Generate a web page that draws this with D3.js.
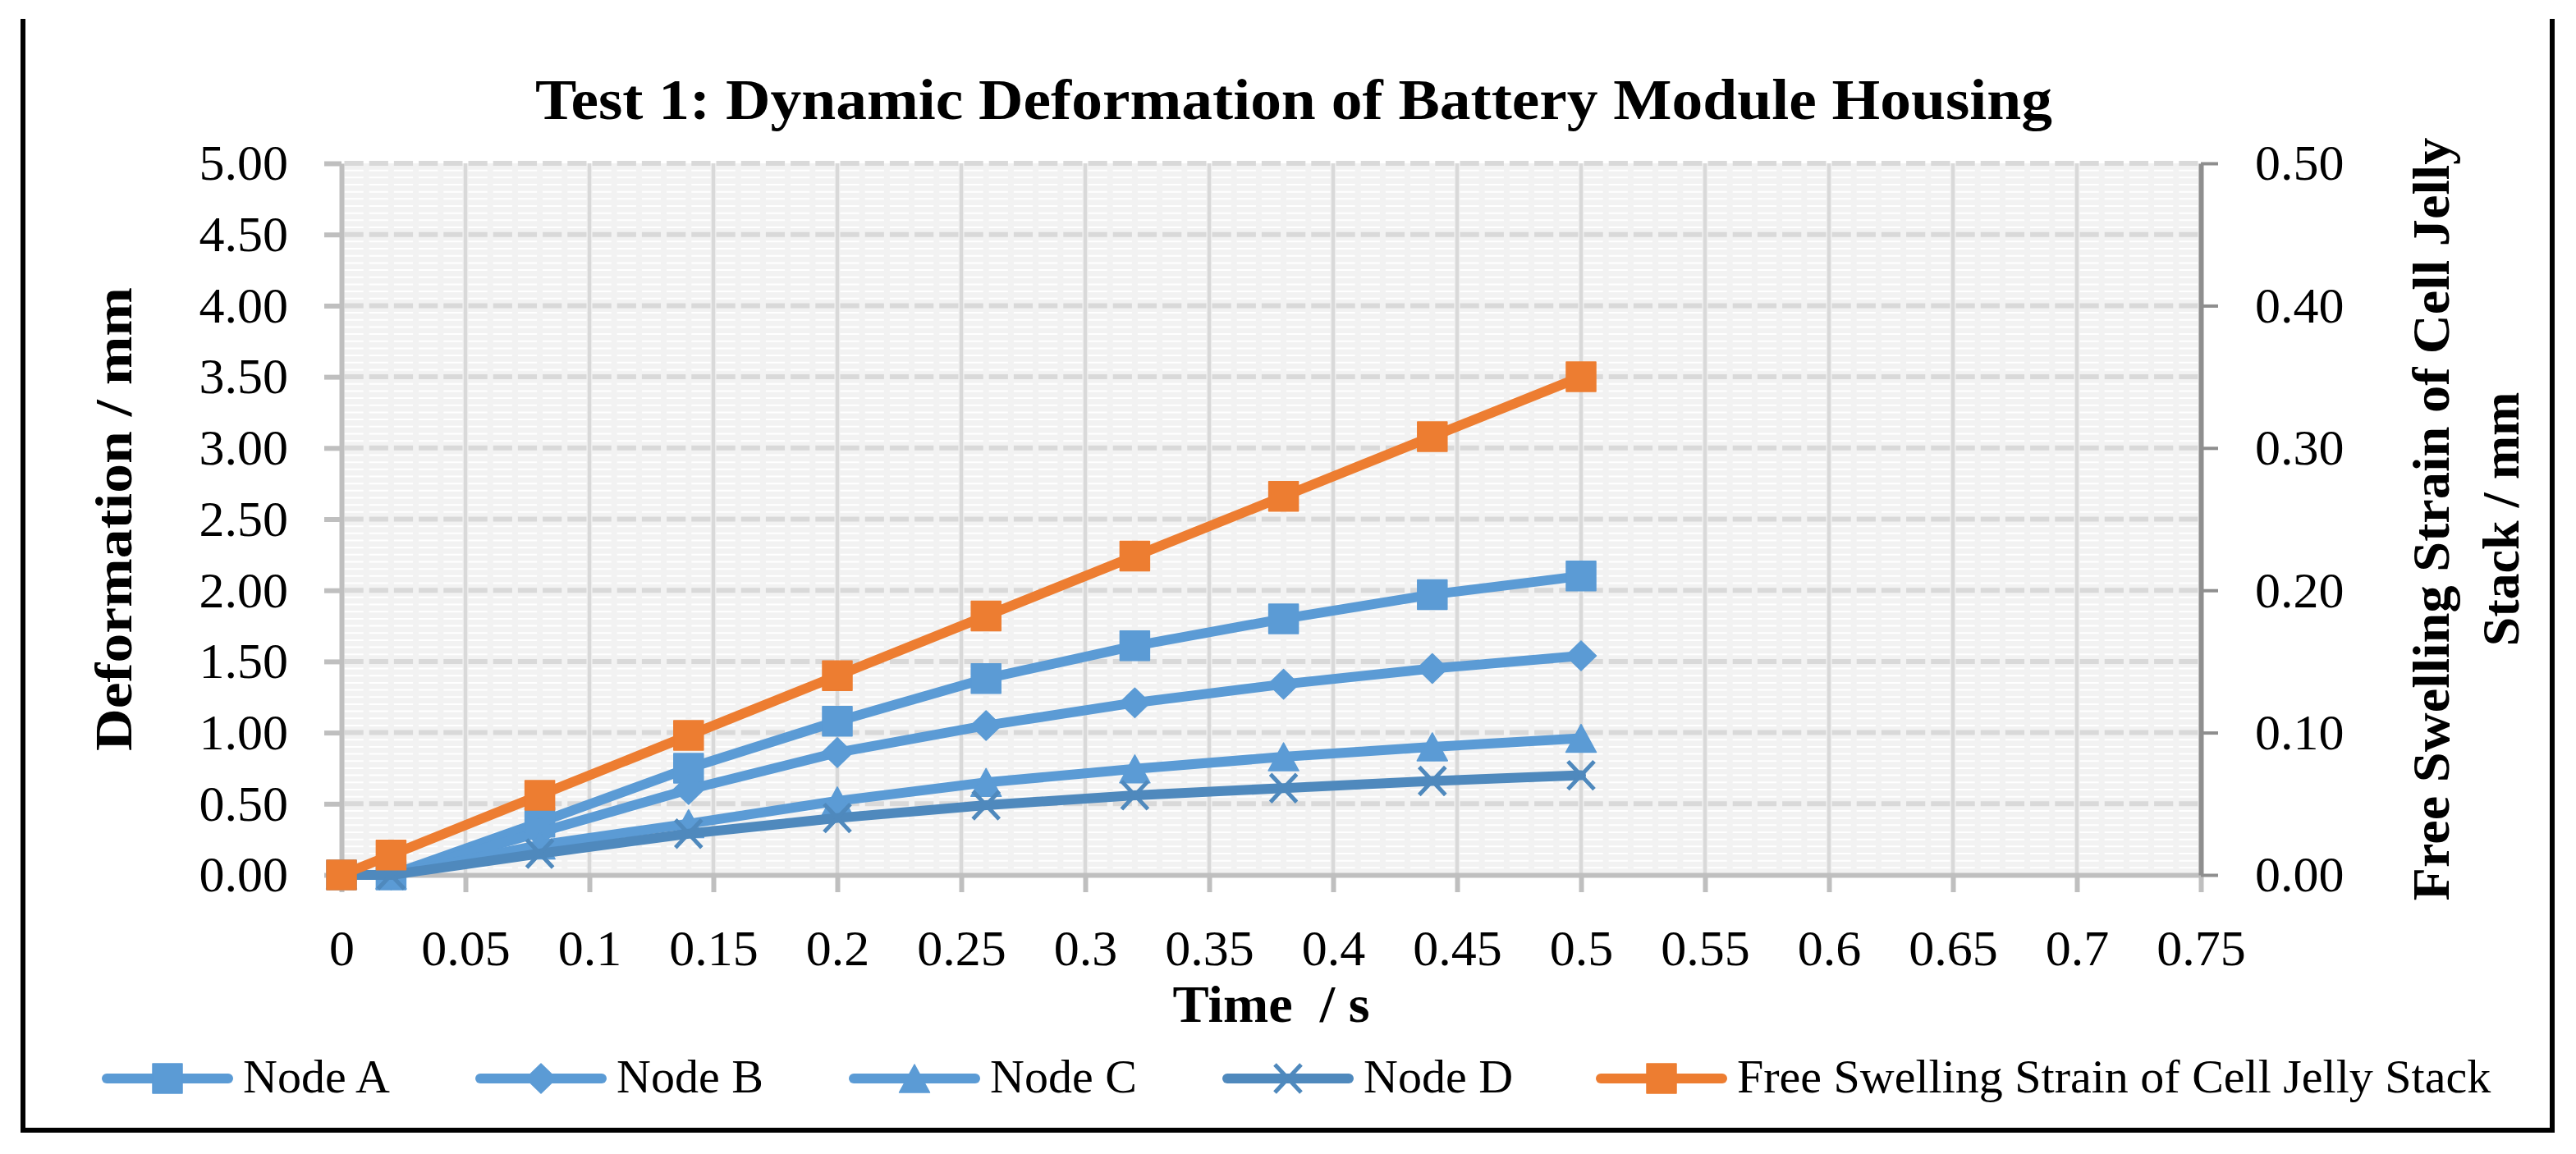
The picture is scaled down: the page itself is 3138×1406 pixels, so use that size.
<!DOCTYPE html>
<html>
<head>
<meta charset="utf-8">
<script src="https://cdn.jsdelivr.net/npm/d3@7/dist/d3.min.js"></script>
<style>
    body {margin: 0; background: #fff;}
    text {font-family: "Liberation Serif", "Times New Roman", serif; fill: #000;}
</style>
</head>
<body>
<svg id="chart" width="3138" height="1406"></svg>
<script>

// data
const time = [0, 0.02, 0.08, 0.14, 0.2, 0.26, 0.32, 0.38, 0.44, 0.5];
const nodeA = [0, 0.00, 0.37, 0.75, 1.08, 1.38, 1.61, 1.80, 1.97, 2.10];
const nodeB = [0, 0.00, 0.30, 0.60, 0.86, 1.05, 1.21, 1.34, 1.45, 1.54];
const nodeC = [0, 0.00, 0.21, 0.36, 0.52, 0.65, 0.745, 0.83, 0.90, 0.96];
const nodeD = [0, 0.00, 0.15, 0.29, 0.40, 0.49, 0.56, 0.61, 0.66, 0.70];
const swelling = [0, 0.014, 0.056, 0.098, 0.14, 0.182, 0.224, 0.266, 0.308, 0.35];

const seriesNames = ['Node A', 'Node B', 'Node C', 'Node D', 'Free Swelling Strain of Cell Jelly Stack'];

const xTicks = [0, 0.05, 0.1, 0.15, 0.2, 0.25, 0.3, 0.35, 0.4, 0.45, 0.5, 0.55, 0.6, 0.65, 0.7, 0.75];
const xTickLabels = ['0', '0.05', '0.1', '0.15', '0.2', '0.25', '0.3', '0.35', '0.4', '0.45', '0.5', '0.55', '0.6', '0.65', '0.7', '0.75'];
const leftTicks = [0, 0.5, 1, 1.5, 2, 2.5, 3, 3.5, 4, 4.5, 5];
const leftTickLabels = ['0.00', '0.50', '1.00', '1.50', '2.00', '2.50', '3.00', '3.50', '4.00', '4.50', '5.00'];
const rightTicks = [0, 0.1, 0.2, 0.3, 0.4, 0.5];
const rightTickLabels = ['0.00', '0.10', '0.20', '0.30', '0.40', '0.50'];

const title = 'Test 1: Dynamic Deformation of Battery Module Housing';
const xTitle = 'Time  / s';
const yTitle = 'Deformation / mm';
const y2Title = ['Free Swelling Strain of Cell Jelly', 'Stack / mm'];

// layout
const width = 3138, height = 1406;
const padding = {left: 416, right: 457, top: 199, bottom: 340};
const blue = '#5b9bd5', darkBlue = '#4f89bd', orange = '#ed7d31';
const grid = '#d9d9d9', axisColor = '#bfbfbf', axis2Color = '#8e8e8e';

const svg = d3.select('#chart');

const x = d3.scaleLinear().domain([0, 0.75]).range([padding.left, width - padding.right]);
const yL = d3.scaleLinear().domain([0, 5]).range([height - padding.bottom, padding.top]);
const yR = d3.scaleLinear().domain([0, 0.5]).range([height - padding.bottom, padding.top]);

const [x0, x1] = x.range();
const [yBottom, yTop] = yL.range();

// plot background
svg.append('rect')
    .attr('x', x0).attr('y', yTop)
    .attr('width', x1 - x0).attr('height', yBottom - yTop)
    .attr('fill', '#f2f2f2');

// dash period lines up with the vertical grid (5 dashes per 0.05 s)
const period = (x(0.05) - x(0)) / 5;
const dash = [period - 7, 7].join(' ');

// minor horizontal grid, white dashes every 0.05 mm
const minor = d3.range(1, 100).map(i => i * 0.05).filter((v, i) => (i + 1) % 10 !== 0);
svg.append('g').selectAll('line')
    .data(minor)
    .enter()
    .append('line')
    .attr('x1', x0 + 3.5).attr('x2', x1)
    .attr('y1', d => yL(d)).attr('y2', d => yL(d))
    .attr('stroke', '#ffffff')
    .attr('stroke-width', 2)
    .attr('stroke-dasharray', dash);

// major horizontal grid
svg.append('g').selectAll('line')
    .data(leftTicks.slice(1))
    .enter()
    .append('line')
    .attr('x1', x0 + 3.5).attr('x2', x1)
    .attr('y1', d => yL(d)).attr('y2', d => yL(d))
    .attr('stroke', grid)
    .attr('stroke-width', 6)
    .attr('stroke-dasharray', dash);

// vertical grid
svg.append('g').selectAll('line')
    .data(xTicks.slice(1, -1))
    .enter()
    .append('line')
    .attr('x1', d => x(d)).attr('x2', d => x(d))
    .attr('y1', yTop).attr('y2', yBottom)
    .attr('stroke', grid)
    .attr('stroke-width', 4.5);

// axes
function styleAxis(g, color, tickWidth) {
    g.select('.domain').attr('stroke', color).attr('stroke-width', 6);
    g.selectAll('.tick line').attr('stroke', color).attr('stroke-width', tickWidth);
    g.selectAll('.tick text')
        .attr('fill', '#000')
        .style('font-size', '62px')
        .style('font-family', '"Liberation Serif", serif');
}

svg.append('g')
    .attr('transform', `translate(0,${yBottom})`)
    .call(d3.axisBottom(x).tickValues(xTicks).tickSize(21).tickSizeOuter(0).tickPadding(45)
        .tickFormat((d, i) => xTickLabels[i]))
    .call(g => styleAxis(g, axisColor, 6));

svg.append('g')
    .attr('transform', `translate(${x1},0)`)
    .call(d3.axisRight(yR).tickValues(rightTicks).tickSize(21).tickSizeOuter(0).tickPadding(45)
        .tickFormat((d, i) => rightTickLabels[i]))
    .call(g => styleAxis(g, axis2Color, 4));

svg.append('g')
    .attr('transform', `translate(${x0},0)`)
    .call(d3.axisLeft(yL).tickValues(leftTicks).tickSize(21).tickSizeOuter(0).tickPadding(44)
        .tickFormat((d, i) => leftTickLabels[i]))
    .call(g => styleAxis(g, axisColor, 6));

// markers
const markers = {
    square: 'M-18,-18h36v36h-36Z',
    diamond: 'M0,-18L18.5,0L0,18L-18.5,0Z',
    triangle: 'M0,-17L18.5,17L-18.5,17Z',
    cross: 'M-16,-17L16,17M-16,17L16,-17'
};

const series = [
    {name: seriesNames[0], values: nodeA, color: blue, marker: 'square', y: yL},
    {name: seriesNames[1], values: nodeB, color: blue, marker: 'diamond', y: yL},
    {name: seriesNames[2], values: nodeC, color: blue, marker: 'triangle', y: yL},
    {name: seriesNames[3], values: nodeD, color: darkBlue, marker: 'cross', y: yL},
    {name: seriesNames[4], values: swelling, color: orange, marker: 'square', y: yR},
];

function drawMarker(g, s) {
    const p = g.append('path').attr('d', markers[s.marker]);
    if (s.marker === 'cross') {
        p.attr('fill', 'none').attr('stroke', s.color).attr('stroke-width', 5);
    } else {
        p.attr('fill', s.color).attr('stroke', s.color).attr('stroke-width', 1.5)
            .attr('stroke-linejoin', 'round');
    }
}

for (let s of series) {
    const line = d3.line()
        .x((d, i) => x(time[i]))
        .y(d => s.y(d));

    const g = svg.append('g').attr('class', 'series');
    g.append('path')
        .datum(s.values)
        .attr('d', line)
        .attr('fill', 'none')
        .attr('stroke', s.color)
        .attr('stroke-width', 12)
        .attr('stroke-linejoin', 'round')
        .attr('stroke-linecap', 'round');

    g.selectAll('.pt')
        .data(s.values)
        .enter()
        .append('g')
        .attr('class', 'pt')
        .attr('transform', (d, i) => `translate(${x(time[i])},${s.y(d)})`)
        .each(function () { drawMarker(d3.select(this), s); });
}

// titles
svg.append('text')
    .attr('x', 1576).attr('y', 145)
    .attr('text-anchor', 'middle')
    .attr('font-weight', 'bold')
    .attr('font-size', 70)
    .attr('textLength', 1848).attr('lengthAdjust', 'spacingAndGlyphs')
    .text(title);

svg.append('text')
    .attr('x', (x0 + x1) / 2).attr('y', 1245)
    .attr('text-anchor', 'middle')
    .attr('font-weight', 'bold')
    .attr('font-size', 64)
    .attr('textLength', 240).attr('lengthAdjust', 'spacingAndGlyphs')
    .style('white-space', 'pre')
    .text(xTitle);

svg.append('text')
    .attr('transform', `translate(160,${(yTop + yBottom) / 2}) rotate(-90)`)
    .attr('text-anchor', 'middle')
    .attr('font-weight', 'bold')
    .attr('font-size', 64)
    .attr('textLength', 565).attr('lengthAdjust', 'spacingAndGlyphs')
    .text(yTitle);

const y2Len = [930, 310];
y2Title.forEach((t, i) => {
    svg.append('text')
        .attr('transform', `translate(${2983 + i * 85},${(yTop + yBottom) / 2}) rotate(-90)`)
        .attr('text-anchor', 'middle')
        .attr('font-weight', 'bold')
        .attr('font-size', 64)
        .attr('textLength', y2Len[i]).attr('lengthAdjust', 'spacingAndGlyphs')
        .text(t);
});

// legend, one equal slot per entry
const legend = {x: 124, y: 1314, slot: 455, lineLen: 160};
series.forEach((s, i) => {
    const g = svg.append('g')
        .attr('transform', `translate(${legend.x + i * legend.slot},${legend.y})`);
    g.append('line')
        .attr('x1', 6).attr('x2', legend.lineLen - 6)
        .attr('stroke', s.color)
        .attr('stroke-width', 12)
        .attr('stroke-linecap', 'round');
    drawMarker(g.append('g').attr('transform', `translate(${legend.lineLen / 2},0)`), s);
    g.append('text')
        .attr('x', legend.lineLen + 12).attr('y', 17)
        .attr('font-size', 58)
        .text(s.name);
});

// frame (no top edge in the source)
svg.append('path')
    .attr('d', 'M28,23V1377H3109V23')
    .attr('fill', 'none')
    .attr('stroke', '#000')
    .attr('stroke-width', 6);

</script>
</body>
</html>
